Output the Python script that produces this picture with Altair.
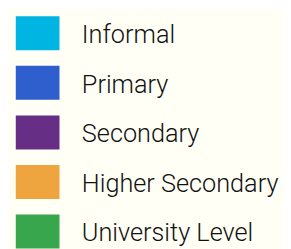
import altair as alt
import pandas as pd

categories = ["Informal", "Primary", "Secondary", "Higher Secondary", "University Level"]
colors = ["#00b5e2", "#2f5fcd", "#662e84", "#eea540", "#38a64c"]

df = pd.DataFrame({"cat": categories, "color": colors})

y = alt.Y("cat:N", sort=categories, axis=None,
          scale=alt.Scale(type="point", range=[22.5, 226.5], padding=0))

rects = alt.Chart(df).mark_rect(height=35).encode(
    x=alt.value(8), x2=alt.value(53), y=y,
    color=alt.Color("cat:N", sort=categories,
                    scale=alt.Scale(domain=categories, range=colors), legend=None),
)

texts = alt.Chart(df).mark_text(
    align="left", baseline="middle", font="Roboto", fontSize=26,
    fontWeight=300, color="#111111", dy=2
).encode(x=alt.value(76), y=y, text="cat:N")

chart = alt.layer(rects, texts).properties(
    width=283, height=241, background="#fffff5",
    padding=0, autosize=alt.AutoSizeParams(type="none"),
).configure_view(stroke=None)

chart.save("out.html", embed_options={"renderer": "svg", "actions": False})
